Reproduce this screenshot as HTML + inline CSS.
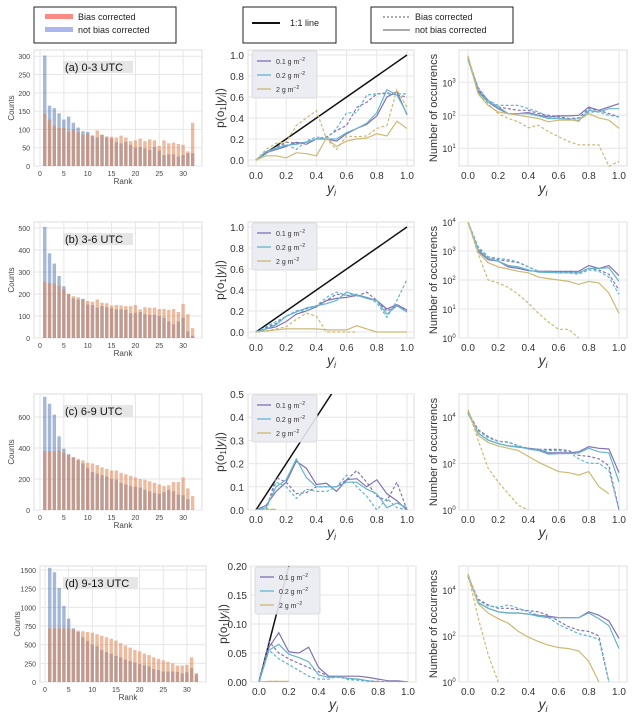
<!DOCTYPE html>
<html><head><meta charset="utf-8"><style>
body{margin:0;background:#fff;}
svg{display:block;font-family:"Liberation Sans","DejaVu Sans",sans-serif;}
</style></head><body>
<svg id="fig" width="635" height="717" viewBox="0 0 635 717" xmlns="http://www.w3.org/2000/svg">
<g>
<rect x="34" y="7" width="142" height="36" fill="#fff" stroke="#222" stroke-width="1"/>
<rect x="45" y="14" width="28" height="5" fill="#f98a84"/>
<rect x="45" y="27" width="28" height="5" fill="#aab6ee"/>
<text x="78" y="20" font-size="9" fill="#222">Bias corrected</text>
<text x="78" y="33" font-size="9" fill="#222">not bias corrected</text>
</g>
<g>
<rect x="243" y="7" width="93" height="36" fill="#fff" stroke="#222" stroke-width="1"/>
<line x1="252" y1="23" x2="280" y2="23" stroke="#111" stroke-width="2"/>
<text x="290" y="26" font-size="9" fill="#222">1:1 line</text>
</g>
<g>
<rect x="371" y="7" width="142" height="36" fill="#fff" stroke="#222" stroke-width="1"/>
<line x1="383" y1="17" x2="410" y2="17" stroke="#aaa" stroke-width="2" stroke-dasharray="2,2"/>
<line x1="383" y1="30" x2="410" y2="30" stroke="#aaa" stroke-width="2"/>
<text x="415" y="20" font-size="9" fill="#222">Bias corrected</text>
<text x="415" y="33" font-size="9" fill="#222">not bias corrected</text>
</g>
</svg>
<script>
// ---------- data ----------
const rowLabels = ["(a)    0-3 UTC","(b)    3-6 UTC","(c)    6-9 UTC","(d)    9-13 UTC"];
const histBlueA = [302,165,158,144,127,135,118,105,95,93,82,78,85,78,75,65,62,66,58,50,52,48,44,52,42,30,32,32,26,30,35,35];
const histOrangeA = [143,127,110,104,104,93,100,92,86,87,84,97,86,81,80,78,83,78,68,70,75,68,73,70,55,70,62,64,60,58,40,118];
const histBlueB = [505,385,338,282,235,200,180,175,178,152,150,138,145,140,135,130,130,128,112,115,118,108,105,105,100,92,75,62,75,92,30,10];
const histOrangeB = [255,250,248,238,220,200,190,185,175,168,165,175,160,158,148,150,148,145,145,150,130,140,138,138,132,132,128,132,118,155,108,45];
const histBlueC = [730,685,615,475,395,360,340,320,300,270,245,235,225,215,200,195,175,165,155,150,145,130,120,110,105,115,130,120,100,95,70,0];
const histOrangeC = [380,380,380,385,370,355,340,330,320,305,300,290,275,265,255,255,240,230,220,210,200,195,185,175,165,155,160,180,180,210,140,90];
const histBlueD = [1530,1470,1260,1020,850,720,670,600,550,500,480,430,400,380,350,330,300,280,260,240,225,210,175,160,140,140,140,135,115,130,185,100];
const histOrangeD = [720,720,720,720,720,700,690,680,670,660,640,620,600,580,555,520,490,460,430,410,380,360,330,310,290,270,250,220,220,230,330,120];

const yiBins = [0,0.067,0.133,0.2,0.267,0.333,0.4,0.467,0.533,0.6,0.667,0.733,0.8,0.867,0.933,1.0];
const N = null;
const relA_01s=[0,0.07,0.1,0.13,0.17,0.15,0.2,0.2,0.18,0.25,0.3,0.34,0.42,0.6,0.65,0.43];
const relA_01d=[0,0.08,0.12,0.17,0.16,0.17,0.2,0.22,0.28,0.33,0.5,0.55,0.63,0.64,0.62,0.6];
const relA_02s=[0,0.08,0.11,0.14,0.15,0.17,0.2,0.2,0.2,0.26,0.3,0.35,0.45,0.67,0.62,0.44];
const relA_02d=[0,0.06,0.12,0.15,0.1,0.18,0.22,0.2,0.3,0.45,0.45,0.62,0.63,0.63,0.63,0.63];
const relA_2s=[0,0.04,0.04,0.02,0.07,0.06,0.04,0.21,0.13,0.18,0.2,0.21,0.25,0.23,0.37,0.3];
const relA_2d=[0,0.1,0.16,0.17,0.33,0.4,0.47,0.2,0.1,0.23,0.22,0.23,0.3,0.33,0.67,0.5];
const relB_01s=[0,0.03,0.05,0.1,0.17,0.2,0.24,0.3,0.32,0.33,0.35,0.33,0.3,0.22,0.26,0.21];
const relB_01d=[0,0.04,0.08,0.15,0.2,0.22,0.25,0.3,0.36,0.35,0.34,0.38,0.3,0.2,0.25,0.2];
const relB_02s=[0,0.03,0.07,0.15,0.19,0.23,0.25,0.27,0.3,0.38,0.35,0.32,0.3,0.17,0.25,0.19];
const relB_02d=[0,0.05,0.1,0.15,0.2,0.2,0.25,0.33,0.38,0.35,0.36,0.33,0.28,0.14,0.3,0.5];
const relB_2s=[0,0.01,0.02,0.03,0.03,0.03,0.03,0.02,0.02,0.02,0.06,0.03,0,0,0,0];
const relB_2d=[0,0.01,0.03,0.05,0.12,0.18,0.15,0,0,0,0,N,N,N,N,N];
const relC_01s=[0,0.02,0.08,0.12,0.21,0.18,0.11,0.115,0.08,0.13,0.135,0.1,0.13,0.07,0.04,0];
const relC_01d=[0,0,0.14,0.12,0.07,0.075,0.1,0.1,0.1,0.13,0.17,0.12,0.06,0.04,0.12,0];
const relC_02s=[0,0.01,0.1,0.13,0.22,0.14,0.1,0.1,0.1,0.12,0.12,0.09,0.07,0.01,0.03,0.01];
const relC_02d=[0,0,0.12,0.1,0.05,0.09,0.08,0.08,0.1,0.15,0.1,0.06,0,0.05,0.01,0];
const relC_2s=[0,0,0.002,N,N,N,N,N,N,N,N,N,N,N,N,N];
const relC_2d=[0,0.004,0.004,N,N,N,N,N,N,N,N,N,N,N,N,N];
const relD_01s=[0,0.06,0.085,0.052,0.05,0.06,0.025,0.01,0.01,0.01,0.01,0.008,0.005,0.002,0.002,0];
const relD_01d=[0,0.07,0.05,0.04,0.032,0.025,0.018,0.01,0.008,0.006,0.004,0.002,0.001,0,0,0];
const relD_02s=[0,0.055,0.065,0.048,0.042,0.035,0.012,0.008,0.009,0.006,0.005,0.002,0,0,0,0];
const relD_02d=[0,0.055,0.04,0.03,0.02,0.01,0.005,0.005,0.01,0.004,0.003,0.001,0,0,0,0];
const relD_2s=[0,0.001,0.001,0.001,N,N,N,N,N,N,N,N,N,N,N,N];
const relD_2d=[0,0.001,0.001,N,N,N,N,N,N,N,N,N,N,N,N,N];
const occA_01s=[3.75,2.75,2.4,2.2,2.05,2.05,2.08,2.0,1.95,1.98,1.98,2.0,2.25,2.15,2.25,2.35];
const occA_01d=[3.75,2.8,2.45,2.25,2.2,2.15,2.15,2.05,2.0,1.95,1.9,1.92,2.2,2.15,2.05,1.95];
const occA_02s=[3.7,2.7,2.4,2.25,2.05,2.05,2.05,1.98,1.9,1.9,1.88,1.82,2.15,2.1,2.2,2.2];
const occA_02d=[3.7,2.85,2.45,2.3,2.3,2.3,2.2,2.1,1.95,1.9,1.88,1.9,2.1,2.1,2.0,1.95];
const occA_2s=[3.8,2.65,2.3,2.1,2.05,2.0,1.95,1.9,1.8,1.85,1.85,1.85,2.05,1.92,1.85,1.6];
const occA_2d=[3.8,2.65,2.35,2.05,1.9,1.8,1.62,1.7,1.5,1.35,1.2,1.1,1.1,1.1,0.45,0.6];
const occB_01s=[4.0,3.0,2.7,2.65,2.45,2.4,2.32,2.3,2.3,2.3,2.3,2.3,2.5,2.4,2.5,2.15];
const occB_01d=[4.0,3.1,2.8,2.7,2.65,2.6,2.45,2.3,2.3,2.28,2.28,2.25,2.4,2.35,2.2,1.65];
const occB_02s=[4.0,3.05,2.75,2.65,2.5,2.45,2.35,2.27,2.26,2.25,2.25,2.25,2.4,2.4,2.42,1.95];
const occB_02d=[4.0,3.15,2.8,2.75,2.7,2.62,2.45,2.3,2.28,2.25,2.25,2.2,2.35,2.3,2.1,1.5];
const occB_2s=[4.0,2.95,2.6,2.45,2.38,2.3,2.25,2.1,2.05,2.0,1.95,1.85,1.95,1.9,1.55,0.85];
const occB_2d=[4.0,2.9,2.0,1.9,1.75,1.5,1.2,0.85,0.55,0.3,0.3,0,N,N,N,N];
const occC_01s=[4.2,3.3,3.0,2.85,2.75,2.7,2.65,2.6,2.45,2.45,2.45,2.5,2.72,2.65,2.62,1.6];
const occC_01d=[4.2,3.45,3.15,2.95,2.92,2.75,2.65,2.6,2.6,2.6,2.55,2.35,2.3,2.2,1.9,0];
const occC_02s=[4.15,3.3,3.0,2.85,2.75,2.72,2.62,2.55,2.4,2.42,2.42,2.45,2.65,2.5,2.45,1.2];
const occC_02d=[4.15,3.4,3.1,2.95,2.9,2.75,2.62,2.6,2.55,2.55,2.5,2.2,2.0,2.0,1.7,0];
const occC_2s=[4.3,3.2,2.9,2.75,2.65,2.55,2.3,2.05,1.85,1.65,1.6,1.5,1.65,1.0,0.7,N];
const occC_2d=[4.3,3.0,1.8,1.2,0.7,0.2,0,N,N,N,N,N,N,N,N,N];
const occD_01s=[4.6,3.45,3.2,3.05,3.0,3.0,2.95,2.9,2.85,2.8,2.8,2.8,3.05,2.9,2.65,1.9];
const occD_01d=[4.6,3.6,3.35,3.2,3.2,3.15,3.1,3.05,2.9,2.65,2.4,2.25,2.2,2.0,0,N];
const occD_02s=[4.6,3.45,3.2,3.05,3.0,3.0,2.95,2.85,2.8,2.8,2.8,2.8,3.0,2.75,2.45,1.45];
const occD_02d=[4.6,3.55,3.3,3.25,3.35,3.2,3.05,2.9,2.8,2.5,2.3,2.1,2.0,1.85,0,N];
const occD_2s=[4.7,3.4,3.0,2.75,2.55,2.2,1.95,1.75,1.6,1.5,1.45,1.35,0.9,0,N,N];
const occD_2d=[4.7,2.8,1.2,0,N,N,N,N,N,N,N,N,N,N,N,N];

const histTicksA=[0,50,100,150,200,250,300], histTicksB=[0,100,200,300,400,500], histTicksC=[0,200,400,600], histTicksD=[0,250,500,750,1000,1250,1500];
const rankTicks=[0,5,10,15,20,25,30];
const relTicksAB=[0,0.2,0.4,0.6,0.8,1.0], relTicksC=[0,0.1,0.2,0.3,0.4,0.5], relTicksD=[0,0.05,0.1,0.15,0.2];
const yiTicks=[0,0.2,0.4,0.6,0.8,1.0];
const logTicksA=[1,2,3], logTicksB=[0,1,2,3,4], logTicksCD=[0,2,4];

// ---------- drawing ----------
const svg=document.getElementById('fig');
const NS='http://www.w3.org/2000/svg';
function mk(tag,attrs,parent){const e=document.createElementNS(NS,tag);for(const k in attrs)e.setAttribute(k,attrs[k]);(parent||svg).appendChild(e);return e;}
const C01='#8172b3',C02='#64b5cd',C2='#ccb974';

const rows=[
 {top:50,hb:histBlueA,ho:histOrangeA,hmax:317,ht:histTicksA,hx0:40,hs:4.77,hbox:[34,202],
  rel:[relA_01s,relA_01d,relA_02s,relA_02d,relA_2s,relA_2d],rmin:-0.057,rmax:1.048,rt:relTicksAB,rf:1,mx:[256,407],mbox:[248,414],
  occ:[occA_01s,occA_01d,occA_02s,occA_02d,occA_2s,occA_2d],lmin:0.46,lmax:3.98,lt:logTicksA},
 {top:222,hb:histBlueB,ho:histOrangeB,hmax:527,ht:histTicksB,hx0:40,hs:4.77,hbox:[34,202],
  rel:[relB_01s,relB_01d,relB_02s,relB_02d,relB_2s,relB_2d],rmin:-0.057,rmax:1.048,rt:relTicksAB,rf:1,mx:[256,407],mbox:[248,414],
  occ:[occB_01s,occB_01d,occB_02s,occB_02d,occB_2s,occB_2d],lmin:0,lmax:4,lt:logTicksB},
 {top:394,hb:histBlueC,ho:histOrangeC,hmax:748,ht:histTicksC,hx0:40,hs:4.77,hbox:[34,202],
  rel:[relC_01s,relC_01d,relC_02s,relC_02d,relC_2s,relC_2d],rmin:0,rmax:0.5,rt:relTicksC,rf:1,mx:[256,407],mbox:[248,414],
  occ:[occC_01s,occC_01d,occC_02s,occC_02d,occC_2s,occC_2d],lmin:0,lmax:4.98,lt:logTicksCD},
 {top:566,hb:histBlueD,ho:histOrangeD,hmax:1554,ht:histTicksD,hx0:45,hs:4.73,hbox:[40,206],
  rel:[relD_01s,relD_01d,relD_02s,relD_02d,relD_2s,relD_2d],rmin:0,rmax:0.2,rt:relTicksD,rf:2,mx:[259,408],mbox:[251,416],
  occ:[occD_01s,occD_01d,occD_02s,occD_02d,occD_2s,occD_2d],lmin:0,lmax:5.04,lt:logTicksCD}
];
const H=116;
const cols=[C01,C01,C02,C02,C2,C2];

rows.forEach((r,ri)=>{
  const top=r.top,bot=top+H;
  const g=mk('g',{});
  
  
  const hy=v=>bot-v/r.hmax*H, hx=v=>r.hx0+v*r.hs;
  mk('rect',{x:r.hbox[0],y:top,width:r.hbox[1]-r.hbox[0],height:H,fill:'#fff',stroke:'#ddd'},g);
  r.ht.forEach(t=>{const y=hy(t);mk('line',{x1:r.hbox[0],x2:r.hbox[1],y1:y,y2:y,stroke:'#e6e6e6'},g);
    const tx=mk('text',{x:r.hbox[0]-4,y:y+3,'font-size':7,'text-anchor':'end',fill:'#444'},g);tx.textContent=t;});
  rankTicks.forEach(t=>{const x=hx(t);mk('line',{x1:x,x2:x,y1:top,y2:bot,stroke:'#e6e6e6'},g);
    const tx=mk('text',{x:x,y:bot+10,'font-size':7,'text-anchor':'middle',fill:'#444'},g);tx.textContent=t;});
  r.hb.forEach((v,i)=>{const b=mk('rect',{x:hx(i+1)-1.7,y:hy(v),width:3.4,height:bot-hy(v),fill:'#4c72b0','fill-opacity':0.5},g);
    });
  r.ho.forEach((v,i)=>{const b=mk('rect',{x:hx(i+1)-1.7,y:hy(v),width:3.4,height:bot-hy(v),fill:'#dd8452','fill-opacity':0.55},g);
    });
  mk('rect',{x:63,y:top+11,width:ri==3?75:70,height:12,fill:'#e6e6e6'},g);
  const lt=mk('text',{x:65,y:top+21,'font-size':11,fill:'#111','xml:space':'preserve'},g);lt.textContent=rowLabels[ri];
  
  const yl=mk('text',{x:0,y:0,'font-size':8,'text-anchor':'middle',fill:'#444',transform:`translate(${r.hbox[0]-20},${top+H/2}) rotate(-90)`},g);yl.textContent='Counts';
  
  const xl=mk('text',{x:(r.hbox[0]+r.hbox[1])/2+5,y:bot+18,'font-size':8,'text-anchor':'middle',fill:'#444'},g);xl.textContent='Rank';
  

  const g2=mk('g',{});
  
  
  const mx=v=>r.mx[0]+v*(r.mx[1]-r.mx[0]), my=v=>bot-(v-r.rmin)/(r.rmax-r.rmin)*H;
  const cid='clipm'+ri;const cp=mk('clipPath',{id:cid},g2);mk('rect',{x:r.mbox[0],y:top,width:r.mbox[1]-r.mbox[0],height:H},cp);
  mk('rect',{x:r.mbox[0],y:top,width:r.mbox[1]-r.mbox[0],height:H,fill:'#fff',stroke:'#ddd'},g2);
  r.rt.forEach(t=>{const y=my(t);mk('line',{x1:r.mbox[0],x2:r.mbox[1],y1:y,y2:y,stroke:'#e6e6e6'},g2);
    const tx=mk('text',{x:r.mbox[0]-4,y:y+4,'font-size':10,'text-anchor':'end',fill:'#333'},g2);tx.textContent=t.toFixed(r.rf);});
  yiTicks.forEach(t=>{const x=mx(t);mk('line',{x1:x,x2:x,y1:top,y2:bot,stroke:'#e6e6e6'},g2);
    const tx=mk('text',{x:x,y:bot+13,'font-size':10,'text-anchor':'middle',fill:'#333'},g2);tx.textContent=t.toFixed(1);});
  const pg=mk('g',{'clip-path':`url(#${cid})`},g2);
  const one=mk('line',{x1:mx(0),y1:my(0),x2:mx(1),y2:my(1),stroke:'#111','stroke-width':1.5},pg);
  
  function series(arr,xf,yf,col,dash,parent,name){
    let d='',pen=false;arr.forEach((v,i)=>{if(v===null){pen=false;return;}d+=(pen?'L':'M')+xf(yiBins[i]).toFixed(1)+','+yf(v).toFixed(1);pen=true;});
    const p=mk('path',{d:d,fill:'none',stroke:col,'stroke-width':1.2,'stroke-dasharray':dash?'3,2':'none'},parent);
    }
  const nm=['0.1-g-solid','0.1-g-dashed','0.2-g-solid','0.2-g-dashed','2-g-solid','2-g-dashed'];
  r.rel.forEach((a,k)=>series(a,mx,my,cols[k],k%2==1,pg,'reliability-line-'+nm[k]));
  const lg=mk('g',{},g2);
  
  const lx=r.mbox[0]+4;
  mk('rect',{x:lx,y:top+1,width:65,height:47,fill:'#eaeaf2','fill-opacity':0.9,stroke:'#ddd',rx:2},lg);
  [['0.1 g m','−2',C01],['0.2 g m','−2',C02],['2 g m','−2',C2]].forEach((e,k)=>{const y=top+11+k*14;
    mk('line',{x1:lx+5,x2:lx+19,y1:y,y2:y,stroke:e[2],'stroke-width':1.3},lg);
    const t=mk('text',{x:lx+24,y:y+3,'font-size':7,fill:'#333'},lg);t.textContent=e[0];
    const s=mk('tspan',{dy:-3,'font-size':5},t);s.textContent=e[1];});
  const ylab=mk('text',{x:0,y:0,'font-size':12,'text-anchor':'middle',fill:'#333',transform:`translate(${r.mbox[0]-24},${top+H/2}) rotate(-90)`},g2);
  ylab.textContent='p(o';const s1=mk('tspan',{'font-size':8,dy:2},ylab);s1.textContent='1';
  const s2=mk('tspan',{dy:-2},ylab);s2.textContent='|';const s3=mk('tspan',{'font-style':'italic'},ylab);s3.textContent='y';
  const s4=mk('tspan',{'font-size':8,dy:2,'font-style':'italic'},ylab);s4.textContent='i';const s5=mk('tspan',{dy:-2},ylab);s5.textContent='|)';
  
  function yiLabel(cx,parent){const t=mk('text',{x:cx,y:bot+27,'font-size':14,'text-anchor':'middle','font-style':'italic',fill:'#333'},parent);t.textContent='y';
    const s=mk('tspan',{'font-size':9,dy:3},t);s.textContent='i';}
  yiLabel((r.mx[0]+r.mx[1])/2,g2);

  const g3=mk('g',{});
  
  
  const ox=v=>468+v*151, oy=v=>bot-(v-r.lmin)/(r.lmax-r.lmin)*H;
  const cid2='clipo'+ri;const cp2=mk('clipPath',{id:cid2},g3);mk('rect',{x:459,y:top,width:168,height:H+1},cp2);
  mk('rect',{x:459,y:top,width:168,height:H,fill:'#fff',stroke:'#ddd'},g3);
  r.lt.forEach(t=>{const y=oy(t);mk('line',{x1:459,x2:627,y1:y,y2:y,stroke:'#e6e6e6'},g3);
    const tx=mk('text',{x:449,y:y+4,'font-size':9,'text-anchor':'middle',fill:'#333'},g3);tx.textContent='10';
    const sp=mk('tspan',{dy:-4,'font-size':6},tx);sp.textContent=t;});
  yiTicks.forEach(t=>{const x=ox(t);mk('line',{x1:x,x2:x,y1:top,y2:bot,stroke:'#e6e6e6'},g3);
    const tx=mk('text',{x:x,y:bot+13,'font-size':10,'text-anchor':'middle',fill:'#333'},g3);tx.textContent=t.toFixed(1);});
  const pg3=mk('g',{'clip-path':`url(#${cid2})`},g3);
  r.occ.forEach((a,k)=>series(a,ox,oy,cols[k],k%2==1,pg3,'occurrence-line-'+nm[k]));
  const ol=mk('text',{x:0,y:0,'font-size':11,'text-anchor':'middle',fill:'#333',transform:`translate(${437},${top+H/2}) rotate(-90)`},g3);
  ol.textContent='Number of occurrencs';
  yiLabel(543,g3);
});
</script>
</body></html>
